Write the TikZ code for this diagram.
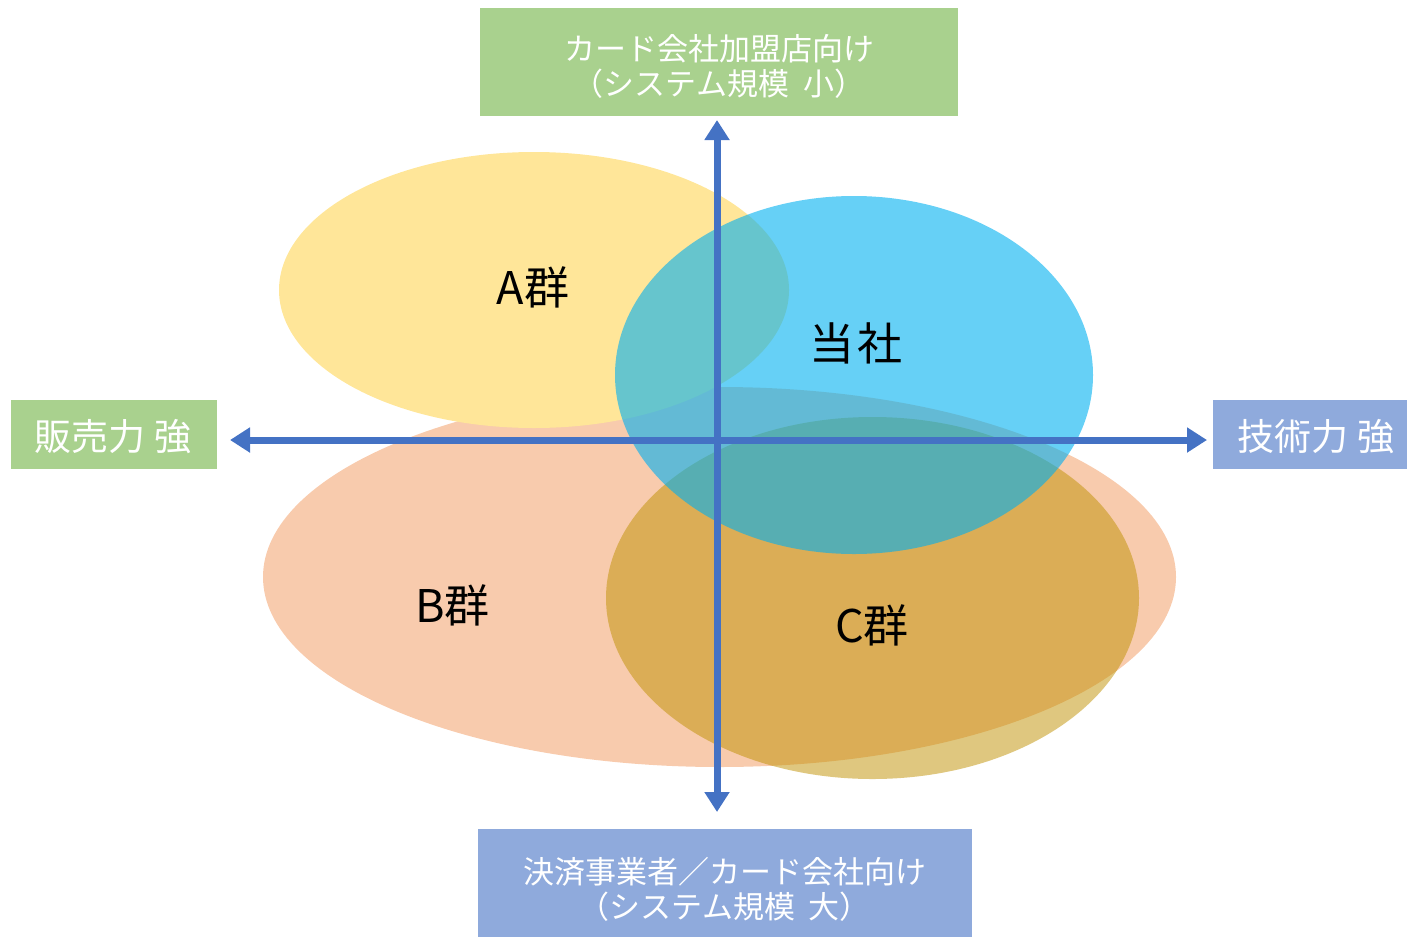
\documentclass[tikz,border=0pt]{standalone}
\usepackage{fontspec}
\setmainfont{Noto Sans CJK JP}
\usetikzlibrary{arrows.meta,shapes.geometric}
\definecolor{boxgreen}{HTML}{A9D18E}
\definecolor{boxblue}{HTML}{8FAADC}
\definecolor{axisblue}{HTML}{4472C4}
\definecolor{ellA}{HTML}{FFE699}
\definecolor{ellB}{HTML}{F8CBAD}
\definecolor{ellC}{HTML}{BF9000}
\definecolor{ellT}{HTML}{00B0F0}
\begin{document}
\begin{tikzpicture}[x=1pt,y=-1pt,
  bigbox/.style={rectangle, inner sep=0pt, draw=none, text=white, align=center,
    font=\fontsize{31}{35}\selectfont},
  sidebox/.style={rectangle, inner sep=0pt, draw=none, text=white,
    font=\fontsize{37}{40}\selectfont},
  blob/.style={ellipse, inner sep=0pt, draw=none},
  grp/.style={inner sep=0pt, text=black, font=\fontsize{45}{50}\selectfont},
  axisline/.style={draw=axisblue, line width=7pt,
    {Triangle[length=20pt,width=24pt]}-{Triangle[length=20pt,width=24pt]}}
]
\useasboundingbox (0,0) rectangle (1407,937);

% ellipses (order: B, A, C, Tosha)
\node[blob, fill=ellB, minimum width=913pt, minimum height=380pt] (eB) at (719.5,577) {};
\node[blob, fill=ellA, minimum width=510pt, minimum height=276pt] (eA) at (534,290) {};
\node[blob, fill=ellC, fill opacity=0.5, minimum width=533pt, minimum height=362pt] (eC) at (872.5,598) {};
\node[blob, fill=ellT, fill opacity=0.6, minimum width=478pt, minimum height=358pt] (eT) at (854,375) {};

% labels
\node[grp] (lA) at (533,287) {A群};
\node[grp] (lT) at (856,343) {当\hspace{0.05em}社};
\node[grp] (lB) at (452.5,605) {B群};
\node[grp] (lC) at (872,625) {C群};

% boxes
\node[bigbox, fill=boxgreen, minimum width=478pt, minimum height=108pt] (top) at (719,62) {};
\node[bigbox, text=white] (toptext) at (719,66)
  {カード会社加盟店向け\\（システム規模\hspace{0.45em}小）};
\node[bigbox, fill=boxblue, minimum width=494pt, minimum height=108pt] (bot) at (725,883) {};
\node[bigbox, text=white] (bottext) at (725,889)
  {決済事業者／カード会社向け\\（システム規模\hspace{0.45em}大）};
\node[sidebox, fill=boxgreen, minimum width=206pt, minimum height=69pt] (left) at (114,434.5) {};
\node[sidebox] (lefttext) at (113,437) {販売力 強};
\node[sidebox, fill=boxblue, minimum width=194pt, minimum height=69pt] (right) at (1310,434.5) {};
\node[sidebox] (righttext) at (1316,437) {技術力 強};

% axes
\coordinate (hl) at (230,440);
\coordinate (hr) at (1207,440);
\coordinate (vt) at (717,120);
\coordinate (vb) at (717,812);
\draw[axisline] (hl) -- (hr);
\draw[axisline] (vt) -- (vb);
\end{tikzpicture}
\end{document}
